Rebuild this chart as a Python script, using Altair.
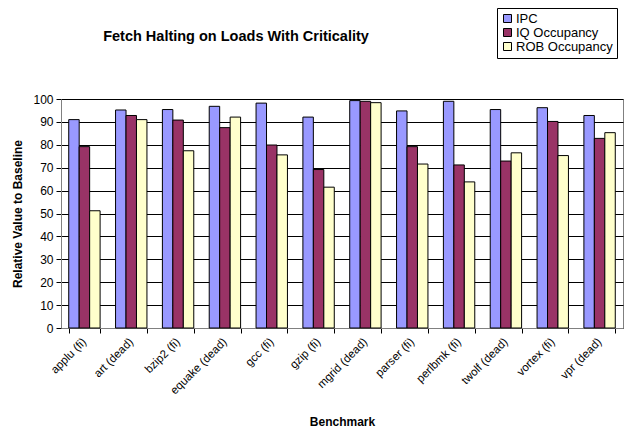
import altair as alt
import pandas as pd

benchmarks = ["applu (fi)", "art (dead)", "bzip2 (fi)", "equake (dead)", "gcc (fi)", "gzip (fi)",
              "mgrid (dead)", "parser (fi)", "perlbmk (fi)", "twolf (dead)", "vortex (fi)", "vpr (dead)"]
ipc = [91.0, 95.2, 95.4, 96.8, 98.2, 92.1, 99.3, 94.8, 99.0, 95.4, 96.2, 92.8]
iq = [79.2, 92.8, 90.8, 87.5, 79.9, 69.2, 99.0, 79.2, 71.2, 72.9, 90.2, 82.8]
rob = [51.2, 91.0, 77.4, 92.1, 75.6, 61.5, 98.4, 71.6, 63.8, 76.5, 75.3, 85.3]
series = ["IPC", "IQ Occupancy", "ROB Occupancy"]
colors = ["#9999FF", "#993366", "#FFFFCC"]
title_text = ["Fetch Halting on Loads With Criticality"]

rows = []
for i, b in enumerate(benchmarks):
    for s, vals in zip(series, [ipc, iq, rob]):
        rows.append({"Benchmark": b, "Series": s, "Value": vals[i]})
df = pd.DataFrame(rows)

font = "Liberation Sans"

bars = alt.Chart(df).mark_bar(stroke="black", strokeWidth=1).encode(
    x=alt.X("Benchmark:N", sort=benchmarks,
            scale=alt.Scale(paddingInner=0.33, paddingOuter=0.165),
            axis=alt.Axis(title="Benchmark", labelAngle=-45, labelAlign="right", labelBaseline="middle",
                          labelFont=font, labelFontSize=11.5, labelColor="black", labelPadding=7,
                          tickBand="extent", tickColor="black", tickSize=5, domainColor="#808080",
                          titleFont=font, titleFontSize=12, titleFontWeight="bold", titleColor="black",
                          titlePadding=20, grid=False)),
    xOffset=alt.XOffset("Series:N", sort=series, scale=alt.Scale(paddingInner=0, paddingOuter=0)),
    y=alt.Y("Value:Q", scale=alt.Scale(domain=[0, 100]),
            axis=alt.Axis(title="Relative Value to Baseline", values=list(range(0, 101, 10)),
                          labelFont=font, labelFontSize=12, labelColor="black", tickColor="black",
                          tickSize=5, labelPadding=3, domainColor="#808080", grid=True, gridColor="black",
                          gridWidth=1, titleFont=font, titleFontSize=12, titleFontWeight="bold",
                          titleColor="black", titlePadding=8)),
    color=alt.Color("Series:N", sort=series, scale=alt.Scale(domain=series, range=colors),
                    legend=alt.Legend(title=None, orient="none", legendX=436, legendY=-91,
                                      symbolType="square", symbolStrokeColor="black", symbolStrokeWidth=1,
                                      symbolSize=64, labelFont=font, labelFontSize=13, labelColor="black",
                                      strokeColor="black", fillColor="white", padding=4, rowPadding=0,
                                      labelOffset=2)),
)

title = alt.Chart(pd.DataFrame({"t": title_text})).mark_text(
    font=font, fontSize=14.5, fontWeight="bold", color="black", align="center", baseline="middle"
).encode(text="t:N", x=alt.value(175), y=alt.value(-62))

chart = alt.layer(bars, title).properties(
    width=562, height=229,
    autosize=alt.AutoSizeParams(type="none"),
    padding={"left": 53, "top": 91, "right": 2, "bottom": 100},
).configure_view(stroke="#808080")

chart.save("out.html", embed_options={"renderer": "svg", "actions": False})
